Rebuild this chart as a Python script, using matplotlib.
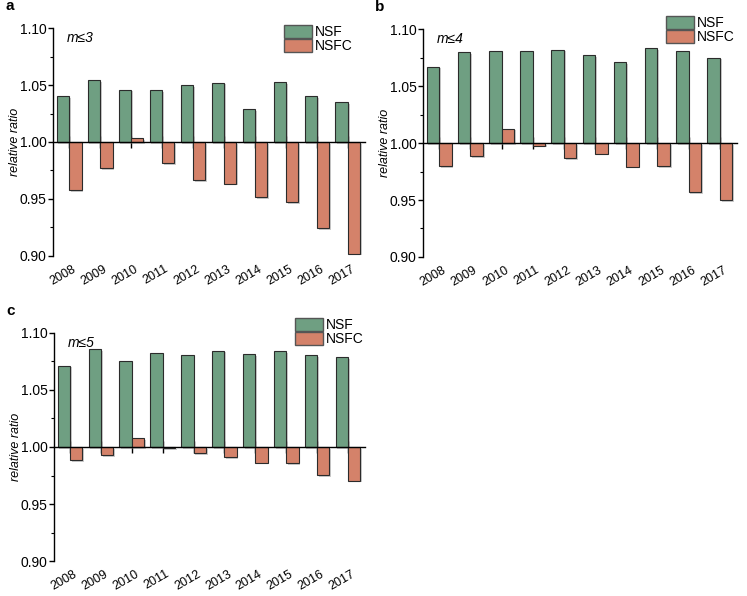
import numpy as np
import matplotlib

matplotlib.use("Agg")
import matplotlib.pyplot as plt
import matplotlib.patheffects as pe
import matplotlib.transforms as mtransforms
from matplotlib.patches import Patch
from matplotlib.ticker import MultipleLocator, FormatStrFormatter

plt.rcParams["font.family"] = ["Liberation Sans", "DejaVu Sans"]

years = ["2008", "2009", "2010", "2011", "2012", "2013", "2014", "2015", "2016", "2017"]

nsf_m3 = [1.040, 1.054, 1.046, 1.0455, 1.050, 1.052, 1.029, 1.0525, 1.040, 1.035]
nsfc_m3 = [0.9576, 0.9772, 1.0032, 0.9816, 0.9667, 0.9634, 0.9518, 0.9474, 0.9246, 0.902]

nsf_m4 = [1.067, 1.0795, 1.081, 1.081, 1.082, 1.077, 1.0707, 1.083, 1.0805, 1.075]
nsfc_m4 = [0.9794, 0.9884, 1.0127, 0.9977, 0.9865, 0.9906, 0.9791, 0.9794, 0.9571, 0.9498]

nsf_m5 = [1.0713, 1.0857, 1.0754, 1.0825, 1.0807, 1.0845, 1.0816, 1.084, 1.0807, 1.0789]
nsfc_m5 = [0.9883, 0.9927, 1.0076, 0.9988, 0.9944, 0.9909, 0.9862, 0.9857, 0.9751, 0.9704]

COR_NSF = "#6f9f82"
COR_NSFC = "#d4826a"
BASE = 1.0


def _painel(fig, ret, nsf, nsfc, rotulo, letra, pos_legenda):
    ax = fig.add_axes(ret)
    x = np.arange(len(years))
    larg = 0.4
    sombra = [pe.SimplePatchShadow(offset=(1.2, -1.2), shadow_rgbFace="#999999", alpha=0.5), pe.Normal()]
    b1 = ax.bar(x - larg / 2, np.array(nsf) - BASE, larg, bottom=BASE, color=COR_NSF,
                edgecolor="#2b2b2b", linewidth=0.8, zorder=2)
    b2 = ax.bar(x + larg / 2, np.array(nsfc) - BASE, larg, bottom=BASE, color=COR_NSFC,
                edgecolor="#2b2b2b", linewidth=0.8, zorder=2)
    for barra in list(b1) + list(b2):
        barra.set_path_effects(sombra)

    ax.set_xlim(-0.52, len(years) - 0.45)
    ax.set_ylim(0.90, 1.10)
    ax.spines["top"].set_visible(False)
    ax.spines["right"].set_visible(False)
    ax.spines["bottom"].set_position(("data", BASE))
    ax.spines["bottom"].set_linewidth(1.0)
    ax.spines["bottom"].set_zorder(3)
    ax.spines["left"].set_linewidth(1.0)

    ax.set_xticks(x)
    ax.tick_params(axis="x", direction="inout", length=8, width=1.0, labelbottom=False)
    ax.yaxis.set_major_locator(MultipleLocator(0.05))
    ax.yaxis.set_minor_locator(MultipleLocator(0.025))
    ax.yaxis.set_major_formatter(FormatStrFormatter("%.2f"))
    ax.tick_params(axis="y", which="major", direction="out", length=3.5, width=1.0, labelsize=10, pad=1)
    ax.tick_params(axis="y", which="minor", direction="out", length=2.2, width=0.8)
    ax.set_ylabel("relative ratio", fontsize=9, fontstyle="italic", labelpad=-1)

    sec = ax.secondary_xaxis(0.0)
    sec.set_xticks(x)
    sec.set_xticklabels(years, rotation=30, fontsize=9)
    sec.tick_params(length=0, pad=5)
    sec.spines["bottom"].set_visible(False)
    desloc = mtransforms.ScaledTranslation(-6 / 100, 0, fig.dpi_scale_trans)
    for lbl in sec.get_xticklabels():
        lbl.set_transform(lbl.get_transform() + desloc)

    ax.text(0.045, 0.985, rotulo, transform=ax.transAxes, fontsize=10, fontstyle="italic",
            va="top", ha="left")
    ax.legend(
        [Patch(facecolor=COR_NSF, edgecolor="#555555"), Patch(facecolor=COR_NSFC, edgecolor="#555555")],
        ["NSF", "NSFC"],
        loc="upper left",
        bbox_to_anchor=pos_legenda,
        frameon=False,
        fontsize=10,
        handlelength=2.0,
        handleheight=1.05,
        handletextpad=0.2,
        labelspacing=0.0,
        borderpad=0.0,
        borderaxespad=0.0,
    )
    fig.text(ret[0] - 0.064, ret[1] + ret[3] + 0.025, letra, fontsize=11, fontweight="bold",
             va="bottom", ha="left")
    return ax


fig = plt.figure(figsize=(7.47, 5.96), dpi=100)
_painel(fig, [0.071, 0.5705, 0.4175, 0.3825], nsf_m3, nsfc_m3, "m≤3", "a", (0.740, 1.013))
_painel(fig, [0.5663, 0.5688, 0.4203, 0.3825], nsf_m4, nsfc_m4, "m≤4", "b", (0.774, 1.057))
_painel(fig, [0.0723, 0.0587, 0.4163, 0.3826], nsf_m5, nsfc_m5, "m≤5", "c", (0.775, 1.066))
fig.savefig("out.png", dpi=100)
